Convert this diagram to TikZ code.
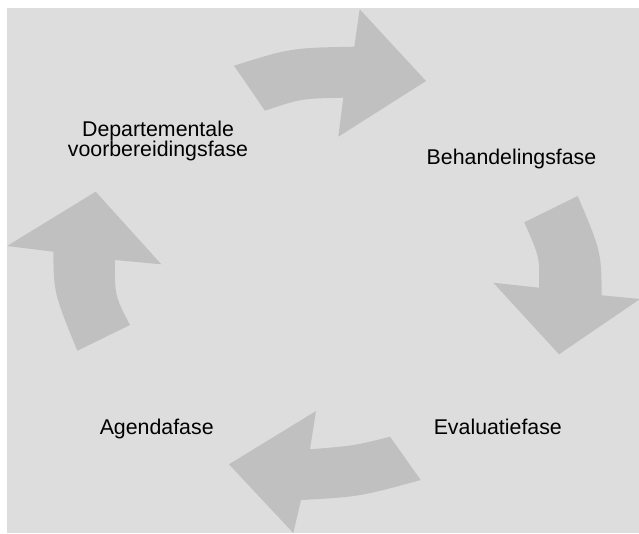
\documentclass[tikz,border=0pt]{standalone}
\usepackage{fontspec}
\setmainfont{Liberation Sans}
\definecolor{panelgray}{RGB}{221,221,221}
\definecolor{arrowgray}{RGB}{192,192,192}

\begin{document}
\begin{tikzpicture}[
			x=0.75pt, y=-0.75pt,
			phase/.style = {align=center, inner sep=0pt, font=\fontsize{16}{15.5}\selectfont},
			cyclearrow/.style = {fill=arrowgray}
		]
		\useasboundingbox (0,0) rectangle (639,533);
		\fill[panelgray] (7,8) rectangle (639,533);
		% Top arrow.
		\fill[cyclearrow] (234,65.7) .. controls (290.9,47.9) .. (354.3,46.7) -- (359.7,9.3) -- (426,81)
			-- (338.3,136.7) -- (343.3,97.7) .. controls (300.9,98.6) .. (265,110.7) -- cycle;
		% Right arrow.
		\fill[cyclearrow] (577.7,196) .. controls (601.2,251.45) .. (601.7,295.3) -- (640,299) -- (559,354.3)
			-- (493.3,282.7) -- (539,287.7) .. controls (539.7,257.3) .. (524.3,222.3) -- cycle;
		% Bottom arrow.
		\fill[cyclearrow] (420.7,480) .. controls (359.7,496.7) .. (301,500) -- (293.3,533) -- (229,464.3)
			-- (316,411) -- (310,449.3) .. controls (354.4,445.7) .. (390,436.7) -- cycle;
		% Left arrow.
		\fill[cyclearrow] (77.3,350.7) .. controls (53.8,292.9) .. (53.3,251.7) -- (7,246) -- (95.7,191.7)
			-- (161.3,264.3) -- (115,260) .. controls (114.8,295.8) .. (130,325) -- cycle;
		% Phases.
		\node[phase] (dep) at (158,141) {Departementale\\voorbereidingsfase};
		\node[phase, anchor=base] (beh) at (511.5,164.3) {Behandelingsfase};
		\node[phase, anchor=base] (eva) at (497.8,434) {Evaluatiefase};
		\node[phase, anchor=base] (age) at (156.7,434) {Agendafase};
	\end{tikzpicture}
\end{document}
